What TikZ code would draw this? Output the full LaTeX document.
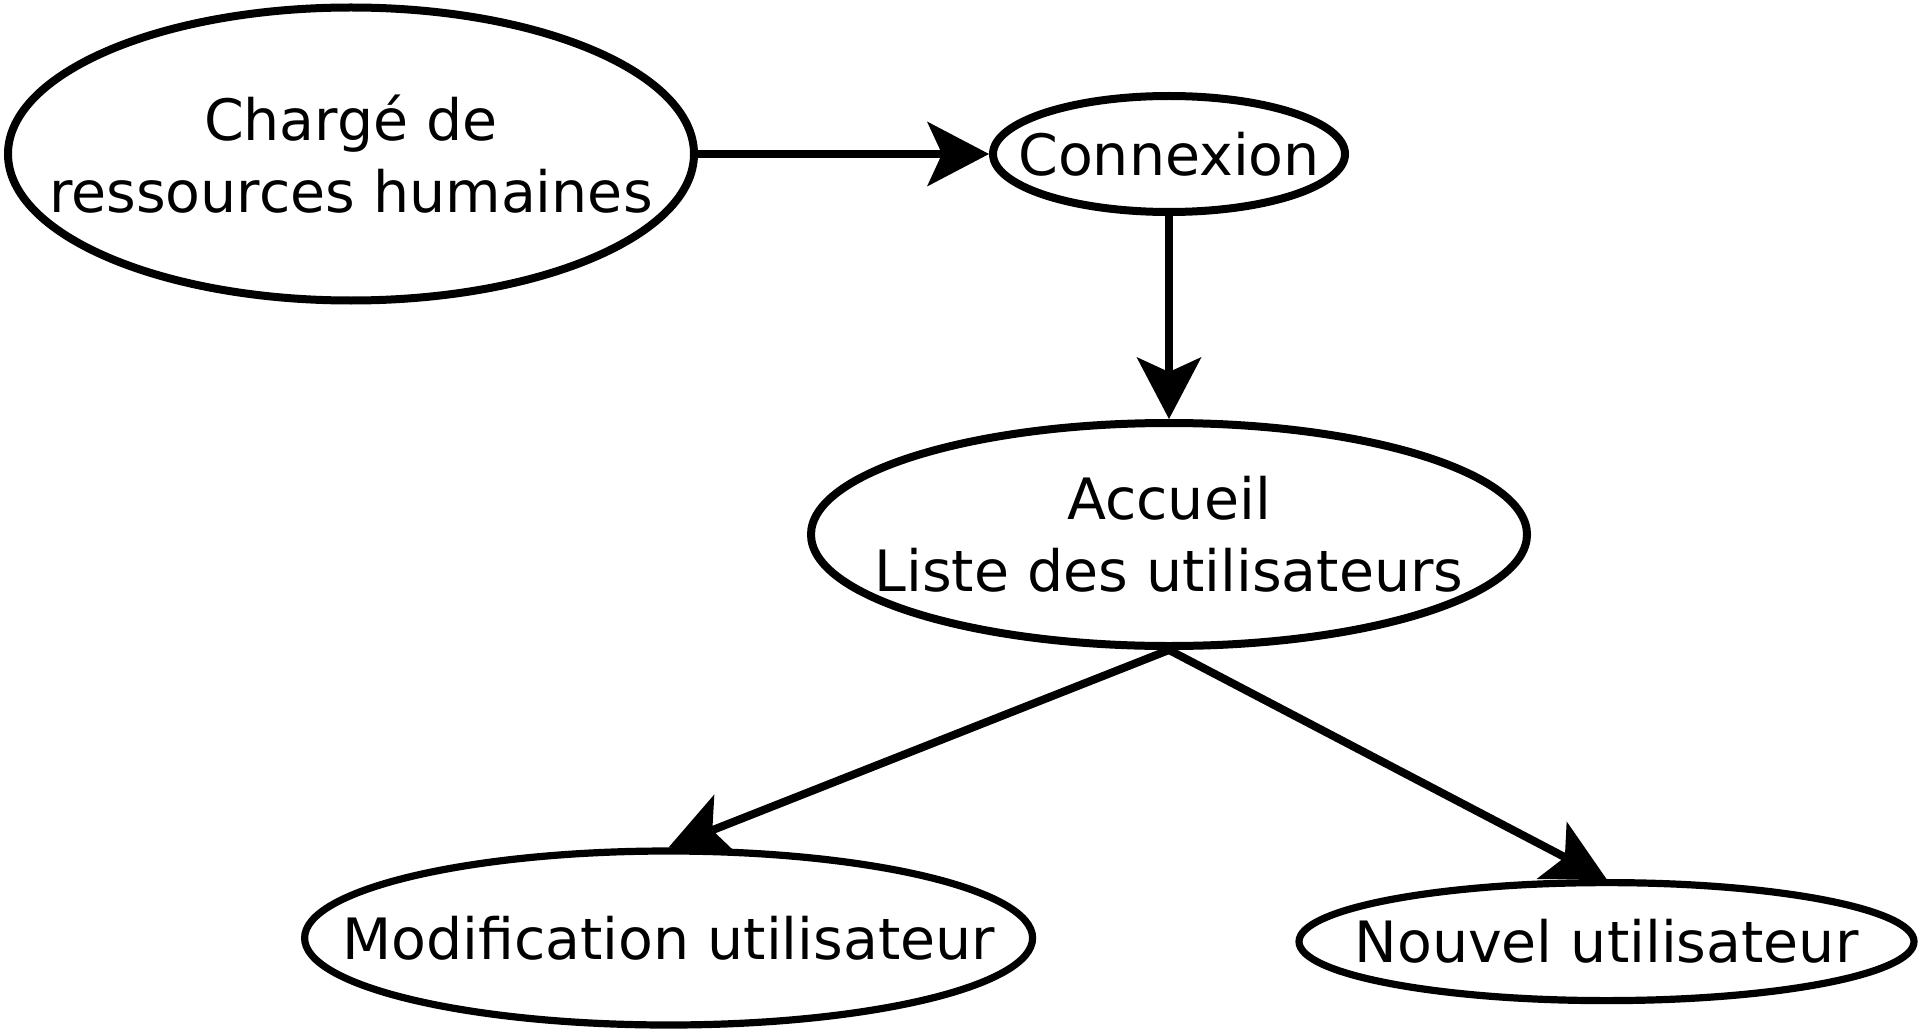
\documentclass[tikz,border=0pt]{standalone}
\usepackage{fontspec}
\setmainfont{DejaVu Sans}
\usetikzlibrary{shapes.geometric,arrows.meta}
\tikzset{
  state/.style={draw=black, line width=4pt, ellipse, inner sep=0pt, fill=white},
  thinstate/.style={state, line width=3.6pt},
  lbl/.style={font=\fontsize{28.5pt}{36pt}\selectfont, align=center, inner sep=0pt},
  conn/.style={line width=4pt, -{Stealth[length=31pt, width=32.5pt, inset=7.5pt, line width=0pt]}}
}
\begin{document}
\begin{tikzpicture}[x=0.5pt, y=-0.5pt]
\useasboundingbox (0,0) rectangle (1920,1032);
\fill[white] (0,0) rectangle (1920,1032);
\node[state, minimum width=343pt, minimum height=146.5pt] (a) at (351,154) {};
\node[state, minimum width=176pt, minimum height=58pt] (b) at (1169,154) {};
\node[state, minimum width=358pt, minimum height=111.5pt] (c) at (1169,534.5) {};
\node[thinstate, minimum width=364pt, minimum height=87pt] (d) at (668.6,938) {};
\node[thinstate, minimum width=307.5pt, minimum height=59pt] (e) at (1606.5,941.6) {};
\node[lbl] (ta) at (a) {Chargé de\\ressources humaines};
\node[lbl] (tb) at (b) {Connexion};
\node[lbl] (tc) at (c) {Accueil\\Liste des utilisateurs};
\node[lbl] (td) at (d) {Modification utilisateur};
\node[lbl] (te) at (e) {Nouvel utilisateur};
\draw[conn] (a.east) -- (b.west);
\draw[conn] (b.south) -- (c.north);
\draw[conn] (c.south) -- (d.north);
\draw[conn] (c.south) -- (e.north);
\end{tikzpicture}
\end{document}
